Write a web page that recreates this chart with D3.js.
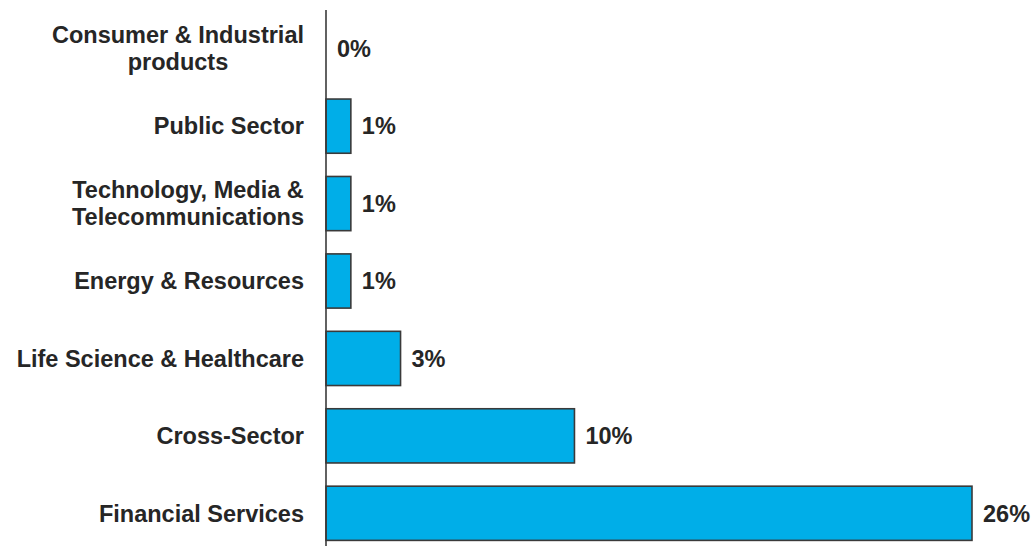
<!DOCTYPE html>
<html>
<head>
<meta charset="utf-8">
<script src="https://cdn.jsdelivr.net/npm/d3@7"></script>
<style>
  html, body { margin: 0; padding: 0; background: #fff; }
  svg { display: block; }
  text { font-family: "Liberation Sans", Arial, sans-serif; font-weight: bold; fill: #262626; }
</style>
</head>
<body>
<svg id="chart" width="1034" height="546"></svg>
<script>
// Share of engagements by industry sector (%)
const categories = [
  "Consumer & Industrial|products",
  "Public Sector",
  "Technology, Media &|Telecommunications",
  "Energy & Resources",
  "Life Science & Healthcare",
  "Cross-Sector",
  "Financial Services"
];
const values = [0, 1, 1, 1, 3, 10, 26];
const valueLabels = ["0%", "1%", "1%", "1%", "3%", "10%", "26%"];

const svg = d3.select("#chart");

const x = d3.scaleLinear().domain([0, 26]).range([326, 972]);
const y = d3.scaleBand()
  .domain(categories)
  .range([10, 552])
  .paddingInner(0.3)
  .paddingOuter(0.15);

// bars
svg.append("g").selectAll("rect")
  .data(categories)
  .join("rect")
  .filter((d, i) => values[i] > 0)
  .attr("x", x(0))
  .attr("y", d => y(d))
  .attr("width", d => x(values[categories.indexOf(d)]) - x(0))
  .attr("height", y.bandwidth())
  .attr("fill", "#00aee8")
  .attr("stroke", "#3a3a3a")
  .attr("stroke-width", 1.6);

// vertical axis line
svg.append("line")
  .attr("x1", x(0)).attr("x2", x(0))
  .attr("y1", 10).attr("y2", 546)
  .attr("stroke", "#3a3a3a")
  .attr("stroke-width", 1.6);

// category labels (wrapped on "|"), block right-aligned, lines centred
const catG = svg.append("g");
categories.forEach(c => {
  const lines = c.split("|");
  const cy = y(c) + y.bandwidth() / 2;
  const lh = 27;
  const t = catG.append("text")
    .attr("text-anchor", "middle")
    .attr("font-size", 23.5);
  lines.forEach((ln, k) => {
    t.append("tspan")
      .attr("x", 0)
      .attr("y", cy + (k - (lines.length - 1) / 2) * lh)
      .attr("dy", "0.35em")
      .text(ln);
  });
  const bb = t.node().getBBox();
  const right = 304;
  t.selectAll("tspan").attr("x", right - bb.width / 2);
});

// value labels
svg.append("g").selectAll("text")
  .data(categories)
  .join("text")
  .attr("x", (d, i) => x(values[i]) + 11)
  .attr("y", d => y(d) + y.bandwidth() / 2)
  .attr("dy", "0.35em")
  .attr("font-size", 23.5)
  .text((d, i) => valueLabels[i]);
</script>
</body>
</html>
